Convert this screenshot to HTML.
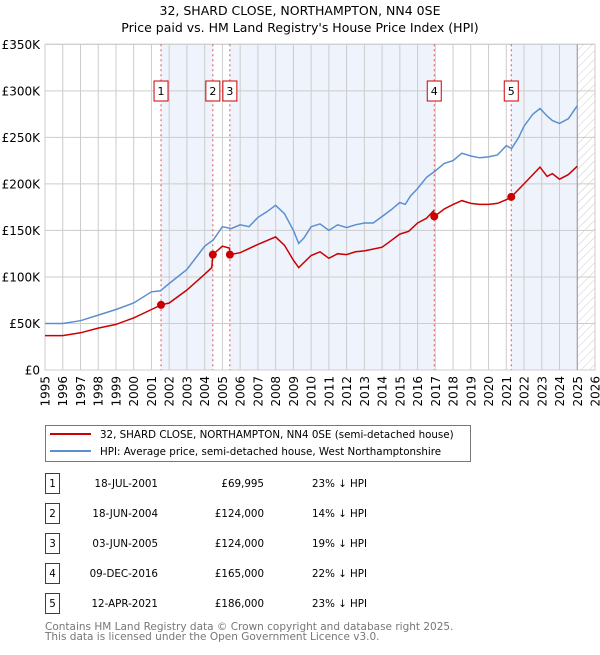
<!DOCTYPE html>
<html><head><meta charset="utf-8"><style>
body{margin:0;background:#fff;font-family:"Liberation Sans","DejaVu Sans",sans-serif;}
svg text{font-family:"DejaVu Sans","Liberation Sans",sans-serif;}
</style></head><body>
<svg id="chart" width="600" height="650" viewBox="0 0 600 650" xmlns="http://www.w3.org/2000/svg">
<defs><pattern id="hatch" width="6" height="6" patternUnits="userSpaceOnUse" patternTransform="rotate(45)"><line x1="0" y1="0" x2="0" y2="6" stroke="#ccc" stroke-width="1"/></pattern></defs>
<text x="300" y="15" text-anchor="middle" font-size="12.5">32, SHARD CLOSE, NORTHAMPTON, NN4 0SE</text>
<text x="300" y="32" text-anchor="middle" font-size="12.5">Price paid vs. HM Land Registry's House Price Index (HPI)</text>
<g id="plot"></g>
<g id="legend">
<rect x="45.5" y="425.5" width="425" height="36" fill="#fff" stroke="#777"/>
<line x1="50" y1="434" x2="91" y2="434" stroke="#cc0000" stroke-width="2"/>
<text x="100" y="438" font-size="10.3">32, SHARD CLOSE, NORTHAMPTON, NN4 0SE (semi-detached house)</text>
<line x1="50" y1="451" x2="91" y2="451" stroke="#5b8fd0" stroke-width="2"/>
<text x="100" y="455" font-size="10.3">HPI: Average price, semi-detached house, West Northamptonshire</text>
</g>
<g id="table"></g>
<text x="45" y="630" font-size="10.5" fill="#777">Contains HM Land Registry data © Crown copyright and database right 2025.</text>
<text x="45" y="640" font-size="10.5" fill="#777">This data is licensed under the Open Government Licence v3.0.</text>
</svg>
<script>
const hpiYears=[1995,1996,1997,1998,1999,2000,2001,2001.5,2002,2003,2004,2004.5,2005,2005.5,2006,2006.5,2007,2007.5,2008,2008.5,2009,2009.3,2009.6,2010,2010.5,2011,2011.5,2012,2012.5,2013,2013.5,2014,2014.5,2015,2015.3,2015.6,2016,2016.5,2017,2017.5,2018,2018.5,2019,2019.5,2020,2020.5,2021,2021.3,2021.7,2022,2022.5,2022.9,2023.3,2023.6,2024,2024.5,2025];
const hpiValues=[50,50,53,59,65,72,84,85,93,108,133,140,154,152,156,154,164,170,177,168,150,136,142,154,157,150,156,153,156,158,158,165,172,180,178,187,195,207,214,222,225,233,230,228,229,231,241,238,250,262,275,281,273,268,265,270,284];
const priceYears=[1995,1996,1997,1998,1999,2000,2001,2001.54,2002,2003,2004,2004.4,2004.46,2005,2005.4,2005.42,2006,2007,2008,2008.5,2009,2009.3,2010,2010.5,2011,2011.5,2012,2012.5,2013,2014,2014.5,2015,2015.5,2016,2016.5,2016.9,2016.94,2017.5,2018,2018.5,2019,2019.5,2020,2020.5,2021,2021.28,2022,2022.9,2023.3,2023.6,2024,2024.5,2025];
const priceValues=[37,37,40,45,49,56,65,70,72,86,103,110,124,133,131,124,126,135,143,134,118,110,123,127,120,125,124,127,128,132,139,146,149,158,163,171,165,173,178,182,179,178,178,179,183,186,200,218,208,211,205,210,219];
const saleLabels=["1","2","3","4","5"];
const saleYears=[2001.54,2004.46,2005.42,2016.94,2021.28];
const saleValues=[69.995,124,124,165,186];
const saleDates=["18-JUL-2001","18-JUN-2004","03-JUN-2005","09-DEC-2016","12-APR-2021"];
const salePrices=["£69,995","£124,000","£124,000","£165,000","£186,000"];
const saleDiffs=["23% ↓ HPI","14% ↓ HPI","19% ↓ HPI","22% ↓ HPI","23% ↓ HPI"];
const yTicks=[0,50,100,150,200,250,300,350];
const yTickLabels=["£0","£50K","£100K","£150K","£200K","£250K","£300K","£350K"];
const xTicks=[1995,1996,1997,1998,1999,2000,2001,2002,2003,2004,2005,2006,2007,2008,2009,2010,2011,2012,2013,2014,2015,2016,2017,2018,2019,2020,2021,2022,2023,2024,2025,2026];

const X0=45,X1=595,Y0=370,Y1=44.3;
const xs=y=>X0+(y-1995)/(2026-1995)*(X1-X0);
const ys=v=>Y0-v/350*(Y0-Y1);
const NS="http://www.w3.org/2000/svg";
const plot=document.getElementById('plot');
function mk(tag,attrs,parent){const e=document.createElementNS(NS,tag);for(const k in attrs)e.setAttribute(k,attrs[k]);(parent||plot).appendChild(e);return e;}

const shadeStarts=[saleYears[0],saleYears[2],saleYears[4]];
const shadeEnds=[saleYears[1],saleYears[3],2025];
for(let i=0;i<shadeStarts.length;i++){
  const r=mk('rect',{x:xs(shadeStarts[i]),y:Y1,width:xs(shadeEnds[i])-xs(shadeStarts[i]),height:Y0-Y1,fill:'#eef3fc'});
  
  
}
const hatch=mk('rect',{x:xs(2025),y:Y1,width:X1-xs(2025),height:Y0-Y1,fill:'url(#hatch)'});


yTicks.forEach((t,i)=>{
  const l=mk('line',{x1:X0,x2:X1,y1:ys(t),y2:ys(t),stroke:'#ccc','stroke-width':1});
  
  
  const tx=mk('text',{x:40,y:ys(t)+4.5,'text-anchor':'end','font-size':12});
  
  
  tx.textContent=yTickLabels[i];
});
xTicks.forEach(t=>{
  const l=mk('line',{x1:xs(t),x2:xs(t),y1:Y1,y2:Y0,stroke:'#ccc','stroke-width':1});
  
  
  const tx=mk('text',{x:0,y:0,'text-anchor':'end','font-size':12,transform:`translate(${xs(t)+4.5},${Y0+6}) rotate(-90)`});
  
  
  tx.textContent=t;
});
const bd=mk('rect',{x:X0,y:Y1,width:X1-X0,height:Y0-Y1,fill:'none',stroke:'#ccc'});


const endl=mk('line',{x1:xs(2025),x2:xs(2025),y1:Y1,y2:Y0,stroke:'#999','stroke-width':1});


saleYears.forEach((y,i)=>{
  const l=mk('line',{x1:xs(y),x2:xs(y),y1:Y1,y2:Y0,stroke:'#e05050','stroke-width':1,'stroke-dasharray':'2,3'});
  
  
  const g=mk('g',{});
  
  
  mk('rect',{x:xs(y)-7,y:81,width:14,height:20,fill:'#fff',stroke:'#cc0000'},g);
  const t=mk('text',{x:xs(y),y:95,'text-anchor':'middle','font-size':11},g);
  t.textContent=saleLabels[i];
});
function line(xa,va,color,name){
  const d=xa.map((x,i)=>(i?'L':'M')+xs(x).toFixed(1)+','+ys(va[i]).toFixed(1)).join('');
  const p=mk('path',{d:d,fill:'none',stroke:color,'stroke-width':1.5});
  
  
}
line(hpiYears,hpiValues,'#5b8fd0','hpi-line');
line(priceYears,priceValues,'#cc0000','price-line');
saleYears.forEach((y,i)=>{
  const c=mk('circle',{cx:xs(y),cy:ys(saleValues[i]),r:4,fill:'#cc0000'});
  
  
});
const tbl=document.getElementById('table');
saleLabels.forEach((lab,i)=>{
  const cy=483+i*30;
  const r=mk('rect',{x:45.5,y:cy-9.5,width:14,height:20,fill:'#fff',stroke:'#cc0000'},tbl);
  
  
  const cells=[[52.5,lab,'middle'],[158,saleDates[i],'end'],[264,salePrices[i],'end'],[312,saleDiffs[i],'start']];
  cells.forEach(c=>{
    const t=mk('text',{x:c[0],y:cy+4,'text-anchor':c[2],'font-size':10.3},tbl);
    
    
    t.textContent=c[1];
  });
});
</script>
</body></html>
